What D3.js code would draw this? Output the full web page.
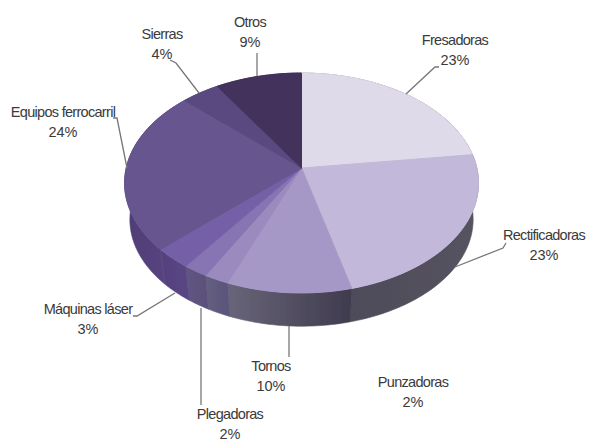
<!DOCTYPE html>
<meta charset="utf-8">
<style>
body { margin: 0; background: #fff; }
text { font-family: "Liberation Sans", sans-serif; font-size: 14.5px; fill: #3b3a3c; letter-spacing: -0.7px; text-anchor: middle; }
.leader { fill: none; stroke: #77757a; stroke-width: 1.3px; }
</style>
<svg width="615" height="441"></svg>
<script src="https://d3js.org/d3.v7.min.js"></script>
<script>
var categories = ["Fresadoras", "Rectificadoras", "Tornos", "Punzadoras", "Plegadoras", "Máquinas láser", "Equipos ferrocarril", "Sierras", "Otros"];
var values = [23, 23, 10, 2, 2, 3, 24, 4, 9];
var topColors = ["#dfdaea", "#c2b8d9", "#a698c6", "#9a8abd", "#8674b2", "#7560a8", "#66548f", "#5a4a80", "#42305c"];
var sideLeft = ["#5b5867", "#4e4c5a", "#696579", "#655f80", "#5f5582", "#54427c", "#4f3d74", "#47375f", "#36284c"];
var sideRight = ["#4a4856", "#55535f", "#3f3b4e", "#59547a", "#5b5078", "#5a4584", "#5c4888", "#47375f", "#36284c"];

// label x, first line y, leader points
var labelX = [455, 544, 271, 413, 230, 88, 63, 162, 250];
var labelY = [45, 240, 371, 387, 419, 314, 117, 39, 27];
var leaders = [
  [[406, 94], [435, 67], [439, 67]],
  [[455, 267], [503, 248], [506, 243]],
  [[289, 326], [289, 357]],
  [],
  [[201, 308], [201, 405]],
  [[175, 293], [137, 316], [133, 316]],
  [[127, 168], [117, 118], [113, 118]],
  [[199, 93], [176, 63], [170, 60]],
  [[257, 76], [257, 53]]
];

var svg = d3.select("svg");
var cx = 301.5, cy = 168;
var diskW = 175.3, diskA = -85, persp = 0.1364;
var sideDrop = 37, sideScale = 0.97;

// circle to the tilted disk, center of the circle lands on the apex
function project(angle) {
  var u = Math.sin(angle), v = Math.cos(angle);
  var k = 1 + persp * v;
  return [diskW * u / k, (diskA * v + cy) / k];
}
function topPoint(angle) {
  var p = project(angle);
  return [cx + p[0], p[1]];
}
function bottomPoint(angle) {
  var p = project(angle);
  return [cx + p[0] * sideScale, cy + (p[1] - cy) * sideScale + sideDrop];
}
function edge(fn, a0, a1) {
  var n = Math.max(2, Math.ceil((a1 - a0) / 0.02));
  return d3.range(n + 1).map(function(i) { return fn(a0 + (a1 - a0) * i / n); });
}

var pie = d3.pie().sort(null);
var arcs = pie(values);
var line = d3.line();

var defs = svg.append("defs");
defs.append("filter").attr("id", "soft").append("feGaussianBlur").attr("stdDeviation", 0.45);
arcs.forEach(function(d, i) {
  var g = defs.append("linearGradient").attr("id", "side" + i)
    .attr("gradientUnits", "objectBoundingBox");
  g.append("stop").attr("offset", "0%").attr("stop-color", sideLeft[i]);
  g.append("stop").attr("offset", "100%").attr("stop-color", sideRight[i]);
});

var pieG = svg.append("g").attr("filter", "url(#soft)");

pieG.selectAll("path.side").data(arcs).enter().append("path")
  .attr("class", "side")
  .attr("fill", function(d, i) { return "url(#side" + i + ")"; })
  .attr("stroke", function(d, i) { return "url(#side" + i + ")"; })
  .attr("stroke-width", 0.6)
  .attr("d", function(d) {
    var upper = edge(topPoint, d.startAngle, d.endAngle);
    var lower = edge(bottomPoint, d.startAngle, d.endAngle).reverse();
    return line(upper.concat(lower)) + "Z";
  });

pieG.selectAll("path.top").data(arcs).enter().append("path")
  .attr("class", "top")
  .attr("fill", function(d, i) { return topColors[i]; })
  .attr("stroke", function(d, i) { return topColors[i]; })
  .attr("stroke-width", 1)
  .attr("d", function(d) {
    return line([[cx, cy]].concat(edge(topPoint, d.startAngle, d.endAngle))) + "Z";
  });

svg.selectAll("path.leader").data(leaders).enter().append("path")
  .attr("class", "leader")
  .attr("d", function(d) { return d.length ? line(d) : null; });

var labels = svg.selectAll("text.label").data(categories).enter().append("text")
  .attr("class", "label")
  .attr("x", function(d, i) { return labelX[i]; })
  .attr("y", function(d, i) { return labelY[i]; });
labels.append("tspan").text(function(d) { return d; });
labels.append("tspan")
  .attr("x", function(d, i) { return labelX[i]; })
  .attr("dy", 20)
  .style("letter-spacing", "0")
  .text(function(d, i) { return values[i] + "%"; });
</script>
